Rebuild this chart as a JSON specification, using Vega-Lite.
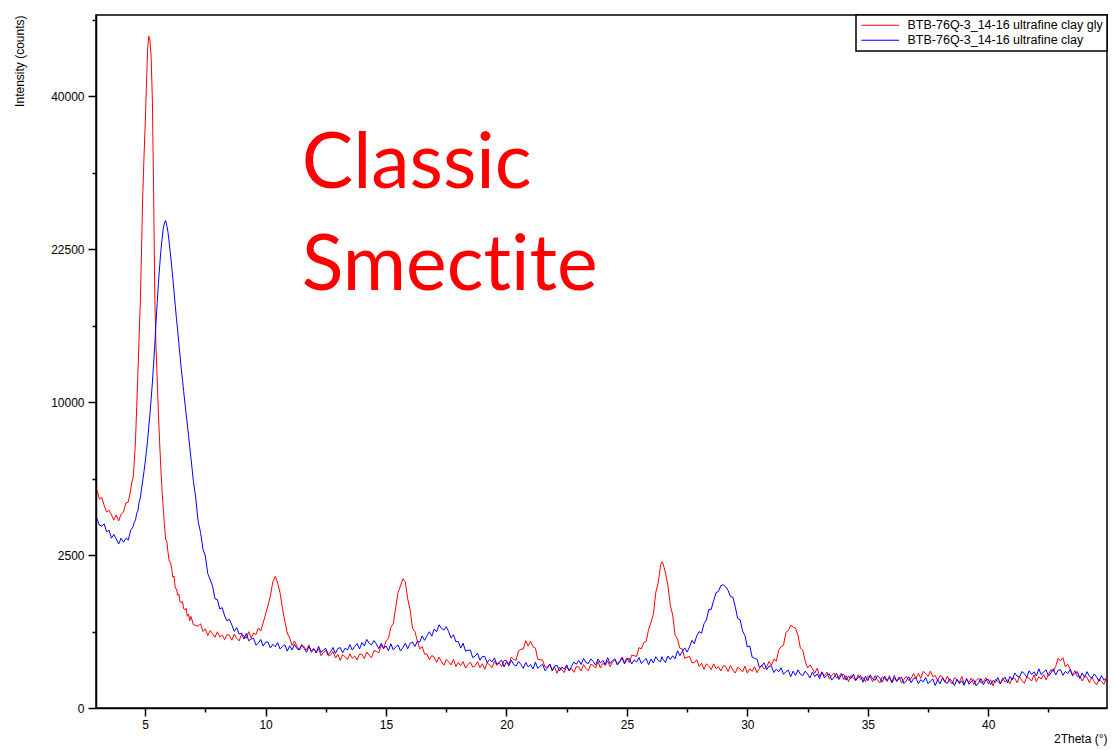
{
  "$schema": "https://vega.github.io/schema/vega-lite/v6.json",
  "width": 1011,
  "height": 693,
  "autosize": "none",
  "padding": {"left": 96, "top": 15, "right": 7, "bottom": 42},
  "background": "white",
  "config": {
    "view": {"stroke": "black", "strokeWidth": 1.5},
    "font": "Liberation Sans",
    "axis": {
      "grid": false,
      "domainColor": "black",
      "domainWidth": 1.5,
      "tickColor": "black",
      "tickWidth": 1.5,
      "labelFont": "Liberation Sans",
      "labelFontSize": 12,
      "labelColor": "black",
      "titleFont": "Liberation Sans",
      "titleFontSize": 12,
      "titleFontWeight": "normal",
      "titleColor": "black"
    },
    "legend": {
      "orient": "top-right",
      "offset": 0,
      "strokeColor": "black",
      "strokeWidth": 1.5,
      "fillColor": "white",
      "padding": 4,
      "rowPadding": 2,
      "symbolType": "M-3.6,0H3.6",
      "symbolSize": 110,
      "symbolStrokeWidth": 1,
      "symbolOffset": 14,
      "labelOffset": 21,
      "labelFont": "Liberation Sans",
      "labelFontSize": 12.5,
      "labelColor": "black",
      "labelLimit": 400
    }
  },
  "layer": [
    {
      "data": {"name": "scans"},
      "mark": {"type": "line", "strokeWidth": 1, "clip": true},
      "encoding": {
        "x": {
          "field": "t",
          "type": "quantitative",
          "scale": {"domain": [2.96, 44.93], "nice": false, "zero": false},
          "axis": {
            "title": "2Theta (°)",
            "titleAnchor": "end",
            "titlePadding": 3,
            "values": [5, 7.5, 10, 12.5, 15, 17.5, 20, 22.5, 25, 27.5, 30, 32.5, 35, 37.5, 40, 42.5],
            "labelExpr": "datum.value % 5 === 0 ? datum.label : ''",
            "tickSize": {"condition": {"test": "datum.value % 5 === 0", "value": 8}, "value": 4},
            "labelPadding": 3,
            "labelFlush": false
          }
        },
        "y": {
          "field": "g",
          "type": "quantitative",
          "scale": {"type": "sqrt", "domain": [0, 51290], "nice": false},
          "axis": {
            "title": "Intensity (counts)",
            "titleAnchor": "end",
            "titlePadding": 24,
            "values": [0, 625, 2500, 5625, 10000, 15625, 22500, 30625, 40000, 50625],
            "format": "d",
            "labelExpr": "indexof([0, 2500, 10000, 22500, 40000], datum.value) >= 0 ? datum.label : ''",
            "tickSize": {"condition": {"test": "indexof([0, 2500, 10000, 22500, 40000], datum.value) >= 0", "value": 8}, "value": 4},
            "labelPadding": 4
          }
        },
        "color": {
          "datum": "BTB-76Q-3_14-16 ultrafine clay gly",
          "type": "nominal",
          "scale": {
            "domain": ["BTB-76Q-3_14-16 ultrafine clay gly", "BTB-76Q-3_14-16 ultrafine clay"],
            "range": ["#ff0000", "#0000ff"]
          },
          "legend": {"title": null}
        }
      }
    },
    {
      "data": {"name": "scans"},
      "mark": {"type": "line", "strokeWidth": 1, "clip": true},
      "encoding": {
        "x": {"field": "t", "type": "quantitative"},
        "y": {"field": "a", "type": "quantitative"},
        "color": {
          "datum": "BTB-76Q-3_14-16 ultrafine clay",
          "type": "nominal",
          "legend": {"title": null}
        }
      }
    },
    {
      "data": {"values": [{"note": ["Classic", "Smect\u200cite"]}]},
      "mark": {
        "type": "text",
        "font": "Lato",
        "fontSize": 77,
        "lineHeight": 102,
        "align": "left",
        "baseline": "alphabetic",
        "fill": "#ff0000"
      },
      "encoding": {
        "x": {"datum": 11.5, "type": "quantitative"},
        "y": {"datum": 28870, "type": "quantitative"},
        "text": {"field": "note"}
      }
    }
  ],
  "datasets": {
    "scans": [
      {"t":3.0,"g":5100,"a":3835},{"t":3.1,"g":4660,"a":3570},{"t":3.2,"g":4740,"a":3535},{"t":3.3,"g":4370,"a":3620},
      {"t":3.4,"g":4100,"a":3310},{"t":3.5,"g":4180,"a":3380},{"t":3.6,"g":3985,"a":3080},{"t":3.7,"g":3770,"a":3220},
      {"t":3.8,"g":3980,"a":3050},{"t":3.9,"g":3735,"a":2870},{"t":4.0,"g":4010,"a":3080},{"t":4.1,"g":4095,"a":2935},
      {"t":4.2,"g":4490,"a":3075},{"t":4.3,"g":4530,"a":3010},{"t":4.4,"g":5075,"a":3380},{"t":4.45,"g":5460,"a":3440},
      {"t":4.5,"g":5650,"a":3510},{"t":4.55,"g":6450,"a":3690},{"t":4.6,"g":7650,"a":3770},{"t":4.65,"g":9650,"a":4050},
      {"t":4.7,"g":12000,"a":4150},{"t":4.75,"g":14700,"a":4520},{"t":4.8,"g":17600,"a":4700},{"t":4.85,"g":22400,"a":5130},
      {"t":4.9,"g":28000,"a":5510},{"t":4.95,"g":32200,"a":5960},{"t":5.0,"g":36200,"a":6440},{"t":5.05,"g":41000,"a":7010},
      {"t":5.1,"g":46200,"a":7640},{"t":5.15,"g":48200,"a":8420},{"t":5.2,"g":47600,"a":9240},{"t":5.25,"g":45200,"a":10210},
      {"t":5.3,"g":39500,"a":11290},{"t":5.35,"g":29000,"a":12620},{"t":5.4,"g":18200,"a":14080},{"t":5.45,"g":14000,"a":15820},
      {"t":5.5,"g":11600,"a":17480},{"t":5.55,"g":9300,"a":19230},{"t":5.6,"g":7600,"a":20780},{"t":5.65,"g":6150,"a":22240},
      {"t":5.7,"g":5100,"a":23460},{"t":5.75,"g":4260,"a":24520},{"t":5.8,"g":3630,"a":25120},{"t":5.85,"g":3050,"a":25380},
      {"t":5.9,"g":2970,"a":24860},{"t":5.95,"g":2580,"a":24150},{"t":6.0,"g":2300,"a":23080},{"t":6.05,"g":2280,"a":22010},
      {"t":6.1,"g":2080,"a":20880},{"t":6.15,"g":1830,"a":19720},{"t":6.2,"g":1860,"a":18480},{"t":6.25,"g":1530,"a":17330},
      {"t":6.3,"g":1520,"a":16180},{"t":6.35,"g":1360,"a":15230},{"t":6.4,"g":1385,"a":14180},{"t":6.45,"g":1200,"a":13230},
      {"t":6.5,"g":1190,"a":12280},{"t":6.55,"g":1215,"a":11520},{"t":6.6,"g":1050,"a":10690},{"t":6.65,"g":1030,"a":9960},
      {"t":6.7,"g":1065,"a":9240},{"t":6.75,"g":900,"a":8610},{"t":6.8,"g":945,"a":7940},{"t":6.85,"g":810,"a":7310},
      {"t":6.9,"g":895,"a":6690},{"t":6.95,"g":825,"a":6110},{"t":7.0,"g":745,"a":5520},{"t":7.1,"g":728,"a":4719},
      {"t":7.2,"g":714,"a":3716},{"t":7.3,"g":758,"a":3294},{"t":7.4,"g":624,"a":2698},{"t":7.5,"g":670,"a":2467},
      {"t":7.6,"g":560,"a":1929},{"t":7.7,"g":639,"a":1760},{"t":7.8,"g":590,"a":1585},{"t":7.9,"g":535,"a":1274},
      {"t":8.0,"g":620,"a":1255},{"t":8.1,"g":541,"a":1047},{"t":8.2,"g":566,"a":1076},{"t":8.3,"g":499,"a":903},
      {"t":8.4,"g":577,"a":810},{"t":8.5,"g":564,"a":841},{"t":8.6,"g":491,"a":735},{"t":8.7,"g":583,"a":627},
      {"t":8.8,"g":519,"a":691},{"t":8.9,"g":480,"a":585},{"t":9.0,"g":577,"a":599},{"t":9.1,"g":554,"a":508},
      {"t":9.2,"g":519,"a":593},{"t":9.3,"g":622,"a":483},{"t":9.4,"g":522,"a":508},{"t":9.5,"g":601,"a":521},
      {"t":9.6,"g":576,"a":422},{"t":9.7,"g":685,"a":450},{"t":9.8,"g":632,"a":501},{"t":9.9,"g":776,"a":408},
      {"t":10.0,"g":939,"a":463},{"t":10.1,"g":1120,"a":465},{"t":10.2,"g":1340,"a":385},{"t":10.3,"g":1700,"a":433},
      {"t":10.4,"g":1850,"a":400},{"t":10.5,"g":1670,"a":457},{"t":10.6,"g":1420,"a":372},{"t":10.7,"g":1060,"a":404},
      {"t":10.8,"g":800,"a":428},{"t":10.9,"g":600,"a":345},{"t":11.0,"g":522,"a":414},{"t":11.1,"g":417,"a":359},
      {"t":11.2,"g":481,"a":435},{"t":11.3,"g":410,"a":377},{"t":11.4,"g":363,"a":359},{"t":11.5,"g":434,"a":418},
      {"t":11.6,"g":401,"a":380},{"t":11.7,"g":357,"a":331},{"t":11.8,"g":425,"a":405},{"t":11.9,"g":328,"a":348},
      {"t":12.0,"g":372,"a":379},{"t":12.1,"g":330,"a":323},{"t":12.2,"g":374,"a":407},{"t":12.3,"g":293,"a":329},
      {"t":12.4,"g":330,"a":360},{"t":12.5,"g":355,"a":380},{"t":12.6,"g":291,"a":304},{"t":12.7,"g":299,"a":338},
      {"t":12.8,"g":342,"a":391},{"t":12.9,"g":267,"a":318},{"t":13.0,"g":307,"a":378},{"t":13.1,"g":242,"a":389},
      {"t":13.2,"g":307,"a":326},{"t":13.3,"g":280,"a":382},{"t":13.4,"g":248,"a":361},{"t":13.5,"g":314,"a":428},
      {"t":13.6,"g":264,"a":358},{"t":13.7,"g":288,"a":404},{"t":13.8,"g":246,"a":443},{"t":13.9,"g":310,"a":372},
      {"t":14.0,"g":307,"a":457},{"t":14.1,"g":261,"a":411},{"t":14.2,"g":336,"a":503},{"t":14.3,"g":295,"a":446},
      {"t":14.4,"g":271,"a":426},{"t":14.5,"g":352,"a":486},{"t":14.6,"g":343,"a":437},{"t":14.7,"g":326,"a":376},
      {"t":14.8,"g":425,"a":446},{"t":14.9,"g":370,"a":381},{"t":15.0,"g":482,"a":411},{"t":15.1,"g":517,"a":351},
      {"t":15.2,"g":696,"a":440},{"t":15.3,"g":757,"a":361},{"t":15.4,"g":1077,"a":398},{"t":15.5,"g":1423,"a":424},
      {"t":15.6,"g":1591,"a":347},{"t":15.7,"g":1783,"a":387},{"t":15.8,"g":1700,"a":448},{"t":15.9,"g":1272,"a":375},
      {"t":16.0,"g":1032,"a":445},{"t":16.1,"g":679,"a":465},{"t":16.2,"g":624,"a":404},{"t":16.3,"g":480,"a":476},
      {"t":16.4,"g":374,"a":465},{"t":16.5,"g":402,"a":555},{"t":16.6,"g":311,"a":489},{"t":16.7,"g":310,"a":558},
      {"t":16.8,"g":248,"a":621},{"t":16.9,"g":294,"a":551},{"t":17.0,"g":277,"a":665},{"t":17.1,"g":222,"a":621},
      {"t":17.2,"g":277,"a":740},{"t":17.3,"g":228,"a":676},{"t":17.4,"g":195,"a":649},{"t":17.5,"g":251,"a":706},
      {"t":17.6,"g":229,"a":623},{"t":17.7,"g":198,"a":522},{"t":17.8,"g":253,"a":573},{"t":17.9,"g":183,"a":470},
      {"t":18.0,"g":221,"a":473},{"t":18.1,"g":192,"a":383},{"t":18.2,"g":229,"a":448},{"t":18.3,"g":170,"a":345},
      {"t":18.4,"g":202,"a":357},{"t":18.5,"g":225,"a":359},{"t":18.6,"g":179,"a":271},{"t":18.7,"g":189,"a":288},
      {"t":18.8,"g":229,"a":322},{"t":18.9,"g":173,"a":244},{"t":19.0,"g":209,"a":285},{"t":19.1,"g":160,"a":283},
      {"t":19.2,"g":217,"a":218},{"t":19.3,"g":198,"a":253},{"t":19.4,"g":175,"a":227},{"t":19.5,"g":233,"a":268},
      {"t":19.6,"g":194,"a":203},{"t":19.7,"g":217,"a":226},{"t":19.8,"g":183,"a":243},{"t":19.9,"g":241,"a":181},
      {"t":20.0,"g":241,"a":231},{"t":20.1,"g":204,"a":190},{"t":20.2,"g":277,"a":245},{"t":20.3,"g":250,"a":201},
      {"t":20.4,"g":244,"a":188},{"t":20.5,"g":349,"a":232},{"t":20.6,"g":368,"a":203},{"t":20.7,"g":372,"a":167},
      {"t":20.8,"g":484,"a":221},{"t":20.9,"g":409,"a":180},{"t":21.0,"g":477,"a":203},{"t":21.1,"g":400,"a":162},
      {"t":21.2,"g":384,"a":224},{"t":21.3,"g":253,"a":167},{"t":21.4,"g":248,"a":189},{"t":21.5,"g":244,"a":204},
      {"t":21.6,"g":179,"a":148},{"t":21.7,"g":178,"a":170},{"t":21.8,"g":207,"a":206},{"t":21.9,"g":148,"a":151},
      {"t":22.0,"g":178,"a":190},{"t":22.1,"g":129,"a":194},{"t":22.2,"g":178,"a":146},{"t":22.3,"g":158,"a":179},
      {"t":22.4,"g":134,"a":160},{"t":22.5,"g":185,"a":199},{"t":22.6,"g":148,"a":148},{"t":22.7,"g":167,"a":185},
      {"t":22.8,"g":136,"a":225},{"t":22.9,"g":183,"a":205},{"t":23.0,"g":181,"a":240},{"t":23.1,"g":146,"a":202},
      {"t":23.2,"g":201,"a":263},{"t":23.3,"g":167,"a":221},{"t":23.4,"g":147,"a":210},{"t":23.5,"g":205,"a":258},
      {"t":23.6,"g":192,"a":232},{"t":23.7,"g":172,"a":196},{"t":23.8,"g":231,"a":257},{"t":23.9,"g":171,"a":215},
      {"t":24.0,"g":214,"a":243},{"t":24.1,"g":193,"a":201},{"t":24.2,"g":237,"a":272},{"t":24.3,"g":183,"a":211},
      {"t":24.4,"g":223,"a":239},{"t":24.5,"g":254,"a":257},{"t":24.6,"g":211,"a":197},{"t":24.7,"g":228,"a":225},
      {"t":24.8,"g":277,"a":269},{"t":24.9,"g":221,"a":207},{"t":25.0,"g":269,"a":254},{"t":25.1,"g":220,"a":261},
      {"t":25.2,"g":298,"a":206},{"t":25.3,"g":292,"a":246},{"t":25.4,"g":284,"a":226},{"t":25.5,"g":389,"a":272},
      {"t":25.6,"g":374,"a":211},{"t":25.7,"g":458,"a":239},{"t":25.8,"g":474,"a":262},{"t":25.9,"g":660,"a":200},
      {"t":26.0,"g":783,"a":256},{"t":26.1,"g":943,"a":217},{"t":26.2,"g":1430,"a":281},{"t":26.3,"g":1675,"a":240},
      {"t":26.4,"g":2180,"a":229},{"t":26.45,"g":2280,"a":281},{"t":26.5,"g":2230,"a":254},{"t":26.6,"g":1950,"a":220},
      {"t":26.7,"g":1616,"a":289},{"t":26.8,"g":1132,"a":251},{"t":26.9,"g":926,"a":291},{"t":27.0,"g":570,"a":258},
      {"t":27.1,"g":508,"a":350},{"t":27.2,"g":380,"a":293},{"t":27.3,"g":373,"a":341},{"t":27.4,"g":262,"a":386},
      {"t":27.5,"g":275,"a":335},{"t":27.6,"g":284,"a":398},{"t":27.7,"g":219,"a":488},{"t":27.8,"g":219,"a":442},
      {"t":27.9,"g":250,"a":558},{"t":28.0,"g":184,"a":623},{"t":28.1,"g":214,"a":599},{"t":28.2,"g":159,"a":756},
      {"t":28.3,"g":209,"a":827},{"t":28.4,"g":186,"a":1038},{"t":28.5,"g":158,"a":1041},{"t":28.6,"g":208,"a":1230},
      {"t":28.7,"g":165,"a":1422},{"t":28.8,"g":182,"a":1450},{"t":28.9,"g":146,"a":1600},{"t":29.0,"g":191,"a":1620},
      {"t":29.1,"g":184,"a":1570},{"t":29.2,"g":143,"a":1475},{"t":29.3,"g":192,"a":1326},{"t":29.4,"g":154,"a":1310},
      {"t":29.5,"g":130,"a":1087},{"t":29.6,"g":178,"a":853},{"t":29.7,"g":162,"a":830},{"t":29.8,"g":139,"a":634},
      {"t":29.9,"g":187,"a":559},{"t":30.0,"g":130,"a":398},{"t":30.1,"g":165,"a":411},{"t":30.2,"g":144,"a":276},
      {"t":30.3,"g":181,"a":264},{"t":30.4,"g":133,"a":254},{"t":30.5,"g":168,"a":177},{"t":30.6,"g":196,"a":190},
      {"t":30.7,"g":161,"a":218},{"t":30.8,"g":181,"a":156},{"t":30.9,"g":232,"a":188},{"t":31.0,"g":192,"a":186},
      {"t":31.1,"g":255,"a":134},{"t":31.2,"g":235,"a":161},{"t":31.3,"g":355,"a":140},{"t":31.4,"g":400,"a":173},
      {"t":31.5,"g":421,"a":121},{"t":31.6,"g":612,"a":140},{"t":31.7,"g":640,"a":153},{"t":31.8,"g":731,"a":105},
      {"t":31.9,"g":700,"a":145},{"t":32.0,"g":680,"a":113},{"t":32.1,"g":568,"a":156},{"t":32.2,"g":383,"a":122},
      {"t":32.3,"g":359,"a":112},{"t":32.4,"g":236,"a":145},{"t":32.5,"g":171,"a":123},{"t":32.6,"g":199,"a":96},
      {"t":32.7,"g":165,"a":138},{"t":32.8,"g":130,"a":106},{"t":32.9,"g":169,"a":124},{"t":33.0,"g":108,"a":93},
      {"t":33.1,"g":135,"a":140},{"t":33.2,"g":111,"a":96},{"t":33.3,"g":138,"a":114},{"t":33.4,"g":91,"a":126},
      {"t":33.5,"g":114,"a":83},{"t":33.6,"g":131,"a":101},{"t":33.7,"g":96,"a":129},{"t":33.8,"g":102,"a":87},
      {"t":33.9,"g":128,"a":116},{"t":34.0,"g":86,"a":120},{"t":34.1,"g":111,"a":83},{"t":34.2,"g":74,"a":108},
      {"t":34.3,"g":113,"a":93},{"t":34.4,"g":98,"a":122},{"t":34.5,"g":79,"a":82},{"t":34.6,"g":118,"a":99},
      {"t":34.7,"g":87,"a":112},{"t":34.8,"g":100,"a":71},{"t":34.9,"g":74,"a":107},{"t":35.0,"g":107,"a":80},
      {"t":35.1,"g":104,"a":118},{"t":35.2,"g":74,"a":91},{"t":35.3,"g":112,"a":82},{"t":35.4,"g":84,"a":112},
      {"t":35.5,"g":67,"a":95},{"t":35.6,"g":104,"a":71},{"t":35.7,"g":93,"a":108},{"t":35.8,"g":75,"a":81},
      {"t":35.9,"g":112,"a":98},{"t":36.0,"g":68,"a":70},{"t":36.1,"g":94,"a":112},{"t":36.2,"g":78,"a":75},
      {"t":36.3,"g":103,"a":91},{"t":36.4,"g":66,"a":101},{"t":36.5,"g":88,"a":64},{"t":36.6,"g":107,"a":79},
      {"t":36.7,"g":80,"a":104},{"t":36.8,"g":93,"a":68},{"t":36.9,"g":127,"a":94},{"t":37.0,"g":93,"a":96},
      {"t":37.1,"g":128,"a":63},{"t":37.2,"g":94,"a":86},{"t":37.3,"g":143,"a":73},{"t":37.4,"g":128,"a":99},
      {"t":37.5,"g":106,"a":63},{"t":37.6,"g":145,"a":78},{"t":37.7,"g":105,"a":90},{"t":37.8,"g":113,"a":54},
      {"t":37.9,"g":81,"a":86},{"t":38.0,"g":112,"a":62},{"t":38.1,"g":104,"a":97},{"t":38.2,"g":72,"a":72},
      {"t":38.3,"g":108,"a":65},{"t":38.4,"g":79,"a":91},{"t":38.5,"g":62,"a":75},{"t":38.6,"g":98,"a":54},
      {"t":38.7,"g":87,"a":88},{"t":38.8,"g":69,"a":63},{"t":38.9,"g":106,"a":79},{"t":39.0,"g":63,"a":55},
      {"t":39.1,"g":88,"a":94},{"t":39.2,"g":71,"a":60},{"t":39.3,"g":96,"a":75},{"t":39.4,"g":59,"a":86},
      {"t":39.5,"g":81,"a":52},{"t":39.6,"g":96,"a":67},{"t":39.7,"g":67,"a":92},{"t":39.8,"g":73,"a":58},
      {"t":39.9,"g":98,"a":83},{"t":40.0,"g":62,"a":88},{"t":40.1,"g":85,"a":58},{"t":40.2,"g":53,"a":81},
      {"t":40.3,"g":88,"a":70},{"t":40.4,"g":76,"a":99},{"t":40.5,"g":61,"a":65},{"t":40.6,"g":97,"a":84},
      {"t":40.7,"g":72,"a":101},{"t":40.8,"g":85,"a":67},{"t":40.9,"g":63,"a":106},{"t":41.0,"g":96,"a":85},
      {"t":41.1,"g":94,"a":131},{"t":41.2,"g":68,"a":108},{"t":41.3,"g":105,"a":103},{"t":41.4,"g":80,"a":142},
      {"t":41.5,"g":65,"a":126},{"t":41.6,"g":103,"a":101},{"t":41.7,"g":93,"a":148},{"t":41.8,"g":78,"a":119},
      {"t":41.9,"g":118,"a":140},{"t":42.0,"g":75,"a":110},{"t":42.1,"g":105,"a":164},{"t":42.2,"g":89,"a":119},
      {"t":42.3,"g":120,"a":140},{"t":42.4,"g":85,"a":155},{"t":42.5,"g":120,"a":109},{"t":42.6,"g":158,"a":130},
      {"t":42.7,"g":143,"a":164},{"t":42.8,"g":184,"a":117},{"t":42.9,"g":264,"a":152},{"t":43.0,"g":236,"a":157},
      {"t":43.1,"g":271,"a":114},{"t":43.2,"g":181,"a":143},{"t":43.3,"g":204,"a":126},{"t":43.4,"g":160,"a":158},
      {"t":43.5,"g":119,"a":110},{"t":43.6,"g":149,"a":128},{"t":43.7,"g":104,"a":141},{"t":43.8,"g":110,"a":93},
      {"t":43.9,"g":78,"a":131},{"t":44.0,"g":108,"a":101},{"t":44.1,"g":100,"a":141},{"t":44.2,"g":69,"a":107},
      {"t":44.3,"g":103,"a":96},{"t":44.4,"g":75,"a":124},{"t":44.5,"g":57,"a":103},{"t":44.6,"g":90,"a":76},
      {"t":44.7,"g":77,"a":113},{"t":44.8,"g":60,"a":82},{"t":44.9,"g":92,"a":96}
    ]
  }
}
